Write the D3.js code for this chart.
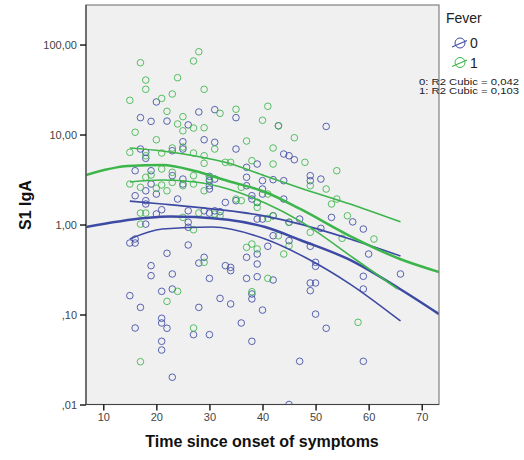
<!DOCTYPE html>
<html>
<head>
<meta charset="utf-8">
<script src="https://cdn.jsdelivr.net/npm/d3@7"></script>
<style>
  html, body { margin: 0; padding: 0; background: #ffffff; }
  svg { display: block; font-family: "Liberation Sans", Arial, sans-serif; }
</style>
</head>
<body>
<svg id="chart" width="524" height="460"></svg>
<script>
// ---------------- DATA ----------------
const feverLevels = ["0", "1"];
const xTicks = [10, 20, 30, 40, 50, 60, 70];
const yTicks = [0.01, 0.1, 1, 10, 100];
const yTickLabels = [",01", ",10", "1,00", "10,00", "100,00"];
const r2Labels = ["0: R2 Cubic = 0,042", "1: R2 Cubic = 0,103"];

// Fever = 0 (blue)
const days0 = [20,28,31,35,17,19,22,26,25,29,31,35,43,52,25,17,18,18,23,37,39,16,19,23,25,25,30,30,30,30,19,18,16,20,24,37,38,33,18,18,20,21,26,26,26,29,30,32,37,39,39,16,15,16,26,22,29,28,19,33,34,44,45,46,31,37,40,40,42,44,49,49,51,38,35,40,39,39,40,44,45,31,47,53,57,59,60,51,42,42,45,41,49,50,19,23,34,39,37,30,15,17,21,23,28,32,34,38,38,40,21,21,22,16,27,30,36,38,21,21,23,50,42,49,50,49,59,59,66,50,52,47,59,45,18];
const igA0 = [23.0,17.8,18.9,15.4,15.4,14.0,14.1,12.8,8.32,8.75,8.19,6.90,12.5,12.3,6.90,6.90,5.44,6.34,6.61,4.32,4.70,3.96,3.96,3.49,3.20,2.82,3.43,3.07,2.70,2.48,2.82,2.37,2.09,2.18,1.92,2.70,1.92,1.76,1.84,1.69,1.31,1.46,1.42,1.06,0.931,1.42,1.34,1.39,0.432,0.470,0.364,0.690,0.623,0.623,0.592,0.479,0.432,0.373,0.349,0.349,0.334,6.07,5.81,5.25,3.20,3.35,3.07,2.48,3.15,3.07,3.49,3.07,3.20,2.09,1.84,2.18,1.76,1.15,1.15,1.92,1.06,1.42,1.15,1.20,1.07,0.891,0.470,0.907,1.25,0.751,0.661,0.573,0.573,0.380,0.270,0.282,0.307,0.263,0.252,0.252,0.162,0.120,0.181,0.192,0.120,0.151,0.131,0.169,0.149,0.112,0.0908,0.0805,0.0703,0.0708,0.0597,0.0597,0.0805,0.0504,0.0504,0.0403,0.0201,0.343,0.242,0.224,0.224,0.184,0.266,0.192,0.282,0.101,0.0703,0.0302,0.0302,0.01,1.01];

// Fever = 1 (green)
const days1 = [28,27,17,18,24,18,29,15,21,23,22,32,35,40,25,24,27,29,25,16,20,37,25,23,31,41,43,46,42,15,18,21,27,29,33,34,38,19,18,21,23,27,29,25,27,21,23,22,20,15,17,36,35,36,39,17,18,17,25,27,28,37,38,39,48,42,29,30,49,41,39,42,31,32,54,52,54,53,56,61,55,45,49,41,43,45,44,29,24,22,38,27,17,41,58];
const igA1 = [83.2,65.6,62.8,40.3,42.8,31.8,31.8,24.0,25.2,28.2,18.1,17.2,19.1,14.4,15.8,13.1,11.8,11.9,11.0,10.6,8.75,8.47,7.26,7.08,6.90,20.6,12.5,9.21,7.08,6.34,5.81,6.23,6.23,5.81,4.91,4.91,5.12,3.55,3.35,4.14,3.80,3.49,2.37,2.70,2.82,2.75,2.94,2.37,2.53,2.82,2.59,2.59,1.92,1.84,1.76,1.34,1.34,1.01,1.20,0.875,1.34,0.558,0.607,0.535,4.91,4.70,4.79,3.20,2.70,2.18,1.55,1.25,1.31,1.25,3.96,2.48,1.92,1.69,1.25,0.690,0.703,1.06,0.819,1.17,0.751,0.581,0.470,0.380,0.181,0.140,0.179,0.0708,0.0299,0.252,0.0819];

// Cubic fit curves and mean confidence bands
const fit0X = [6.74, 17.9, 22.6, 27.3, 40.5, 47.1, 56.1, 65.9, 73.26];
const fit0Y = [0.938, 1.18, 1.23, 1.21, 0.938, 0.673, 0.414, 0.192, 0.101];
const ciHi0X = [15, 21.1, 27.3, 40.5, 47.1, 56.5, 66];
const ciHi0Y = [1.82, 1.69, 1.56, 1.24, 1.01, 0.690, 0.447];
const ciLo0X = [15, 21.1, 30.5, 40.5, 48.6, 56.5, 66];
const ciLo0Y = [0.690, 0.891, 0.938, 0.690, 0.414, 0.218, 0.0847];

const fit1X = [6.74, 14.65, 21.1, 27.3, 33.5, 40.5, 47.1, 56.5, 65.9, 73.26];
const fit1Y = [3.55, 4.47, 4.58, 3.93, 3.04, 2.30, 1.49, 0.745, 0.414, 0.297];
const ciHi1X = [15, 21.1, 27.3, 33.5, 40.5, 47.1, 56.5, 66];
const ciHi1Y = [7.08, 6.55, 5.77, 4.82, 3.46, 2.55, 1.69, 1.07];
const ciLo1X = [15, 21.1, 27.3, 33.5, 40.5, 47.1, 57.4, 65.5];
const ciLo1Y = [2.97, 3.12, 2.97, 2.48, 1.73, 1.09, 0.414, 0.192];

// ---------------- CHART ----------------
const colors = { "0": "#3d4aa3", "1": "#3cb54a" };
const svg = d3.select("#chart");
const L = 86, R = 439, T = 5, B = 404.5;

const x = d3.scaleLinear().domain([6.74, 73.26]).range([L, R]);
const y = d3.scaleLog().domain([0.01, 275]).range([B, T]);

svg.append("rect").attr("x", L).attr("y", T).attr("width", R - L).attr("height", B - T)
  .attr("fill", "#f0f0f0");

svg.append("clipPath").attr("id", "clip").append("rect")
  .attr("x", L).attr("y", T).attr("width", R - L).attr("height", B - T);

const plot = svg.append("g").attr("clip-path", "url(#clip)");

const zip = (a, b) => a.map((v, i) => [v, b[i]]);
const groups = [
  { key: "0", pts: zip(days0, igA0), fit: zip(fit0X, fit0Y), hi: zip(ciHi0X, ciHi0Y), lo: zip(ciLo0X, ciLo0Y) },
  { key: "1", pts: zip(days1, igA1), fit: zip(fit1X, fit1Y), hi: zip(ciHi1X, ciHi1Y), lo: zip(ciLo1X, ciLo1Y) }
];

groups.forEach(g => {
  plot.append("g").selectAll("circle").data(g.pts).join("circle")
    .attr("cx", d => x(d[0])).attr("cy", d => y(d[1])).attr("r", 3.3)
    .attr("fill", "none").attr("stroke", colors[g.key]).attr("stroke-width", 1)
    .attr("stroke-opacity", 0.85);
});

const line = d3.line().x(d => x(d[0])).y(d => y(d[1])).curve(d3.curveMonotoneX);
groups.forEach(g => {
  [g.hi, g.lo].forEach(c => {
    plot.append("path").attr("d", line(c)).attr("fill", "none")
      .attr("stroke", colors[g.key]).attr("stroke-width", 1.6);
  });
  plot.append("path").attr("d", line(g.fit)).attr("fill", "none")
    .attr("stroke", colors[g.key]).attr("stroke-width", 2.5);
});

// frame
svg.append("rect").attr("x", L).attr("y", T).attr("width", R - L).attr("height", B - T)
  .attr("fill", "none").attr("stroke", "#808080").attr("stroke-width", 1.2);
svg.append("line").attr("x1", L).attr("x2", L).attr("y1", T).attr("y2", B)
  .attr("stroke", "#444").attr("stroke-width", 1.2);
svg.append("line").attr("x1", L).attr("x2", R).attr("y1", B).attr("y2", B)
  .attr("stroke", "#444").attr("stroke-width", 1.2);

// Y axis
const yAxis = d3.axisLeft(y).tickValues(yTicks).tickSize(6).tickPadding(3)
  .tickFormat((d, i) => yTickLabels[i]);
const gy = svg.append("g").attr("transform", `translate(${L},0)`).call(yAxis);
gy.select(".domain").remove();
gy.selectAll(".tick line").attr("stroke", "#000").attr("stroke-width", 1.3);
gy.selectAll(".tick text").attr("font-size", 11).attr("fill", "#444")
  .attr("font-family", "Liberation Sans, Arial, sans-serif");

// X axis
const xAxis = d3.axisBottom(x).tickValues(xTicks).tickSize(6).tickPadding(3)
  .tickFormat(d3.format("d"));
const gx = svg.append("g").attr("transform", `translate(0,${B})`).call(xAxis);
gx.select(".domain").remove();
gx.selectAll(".tick line").attr("stroke", "#000").attr("stroke-width", 1.3);
gx.selectAll(".tick text").attr("font-size", 11).attr("fill", "#444")
  .attr("font-family", "Liberation Sans, Arial, sans-serif");

// Axis titles
svg.append("text").attr("x", 262).attr("y", 447).attr("text-anchor", "middle")
  .attr("font-size", 16).attr("font-weight", "bold").attr("fill", "#111")
  .text("Time since onset of symptoms");
svg.append("text").attr("transform", "translate(31,205) rotate(-90)").attr("text-anchor", "middle")
  .attr("font-size", 16).attr("font-weight", "bold").attr("fill", "#111")
  .text("S1 IgA");

// Legend
const lg = svg.append("g");
lg.append("text").attr("x", 446).attr("y", 23).attr("font-size", 14).attr("fill", "#222").text("Fever");
feverLevels.forEach((k, i) => {
  const cy = 43 + i * 19.5;
  lg.append("circle").attr("cx", 460).attr("cy", cy).attr("r", 5)
    .attr("fill", "none").attr("stroke", colors[k]).attr("stroke-width", 1);
  lg.append("line").attr("x1", 452).attr("y1", cy + 4).attr("x2", 467).attr("y2", cy - 2.5)
    .attr("stroke", colors[k]).attr("stroke-width", 1.1);
  lg.append("text").attr("x", 470).attr("y", cy + 5).attr("font-size", 14).attr("fill", "#222").text(k);
});
r2Labels.forEach((t, i) => {
  lg.append("text").attr("x", 419).attr("y", 84.5 + i * 9).attr("font-size", 8.5)
    .attr("textLength", 100).attr("lengthAdjust", "spacingAndGlyphs")
    .attr("fill", "#222").text(t);
});
</script>
</body>
</html>
